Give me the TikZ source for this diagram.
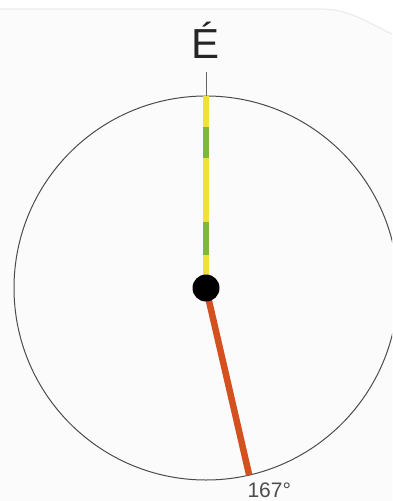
\documentclass[tikz,border=0pt]{standalone}
\usepackage{fontspec}
\setmainfont{Liberation Sans}
\definecolor{bgc}{HTML}{FBFBFB}
\definecolor{ylw}{HTML}{F0E03C}
\definecolor{grn}{HTML}{7CB83A}
\definecolor{org}{HTML}{D4501E}
\definecolor{edge}{HTML}{ECECEC}
\begin{document}
\begin{tikzpicture}[x=1pt,y=-1pt,
  needle/.style={line width=6.5pt},
  ring/.style={draw=black!70,line width=1pt}]
\useasboundingbox (0,0) rectangle (392,501);
\fill[white] (0,0) rectangle (392,501);
\fill[bgc] (0,9) -- (320,9) to[out=0,in=155] (392,34) -- (392,501) -- (0,501) -- cycle;
\draw[edge,line width=1.2pt] (0,9) -- (320,9) to[out=0,in=155] (392,34);
\begin{scope}
\clip (0,0) rectangle (392,501);
\coordinate (c) at (206,288);
\draw[ring] (c) circle[radius=192];
\end{scope}
\coordinate (top) at (206,96);
\coordinate (tick) at (206,72);
\draw[black!60,line width=0.8pt] (tick) -- (top);
\draw[needle,ylw] (206,288) -- (top);
\draw[needle,grn] (206,127) -- (206,158);
\draw[needle,grn] (206,222) -- (206,255);
\coordinate (tip) at (249.2,475.1);
\draw[needle,org] (c) -- (tip);
\node[fill=black,circle,minimum size=27pt,inner sep=0pt] (hub) at (c) {};
\node[font=\fontsize{42}{42}\selectfont,text=black!85,anchor=base] (north) at (206,58) {É};
\node[font=\fontsize{21}{21}\selectfont,text=black!70,anchor=base west] (deg) at (244,497) {167°};
\end{tikzpicture}
\end{document}
